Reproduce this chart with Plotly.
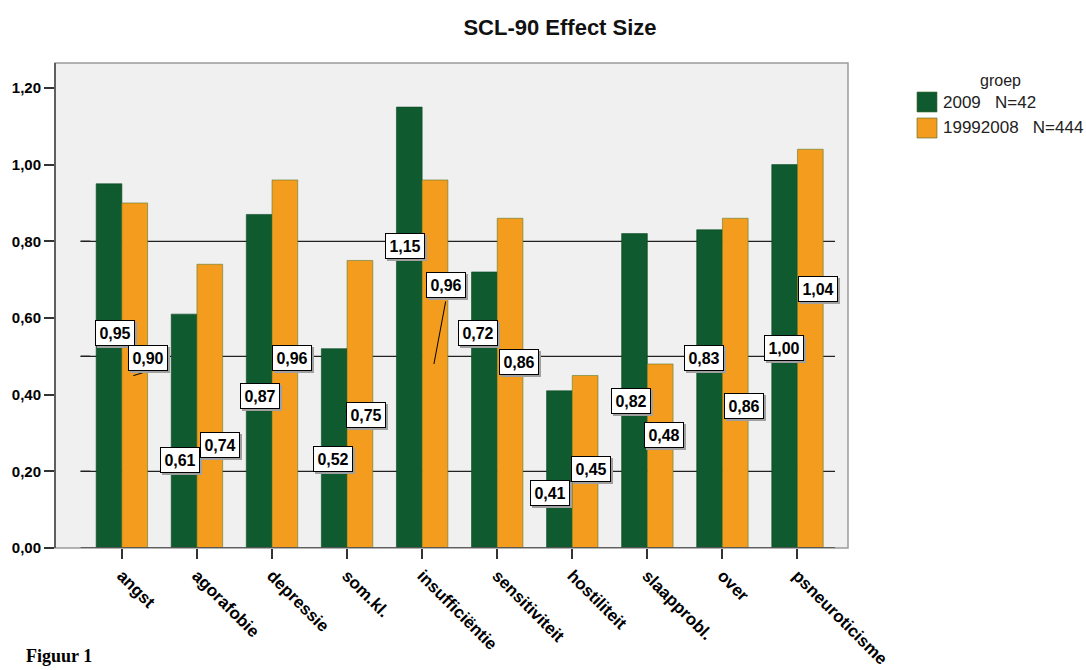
import plotly.graph_objects as go

categories = ["angst", "agorafobie", "depressie", "som.kl.", "insufficiëntie",
              "sensitiviteit", "hostiliteit", "slaapprobl.", "over", "psneuroticisme"]
series_names = ["2009\u00a0\u00a0 N=42", "19992008\u00a0\u00a0 N=444"]
values_2009 = [0.95, 0.61, 0.87, 0.52, 1.15, 0.72, 0.41, 0.82, 0.83, 1.00]
values_1999 = [0.90, 0.74, 0.96, 0.75, 0.96, 0.86, 0.45, 0.48, 0.86, 1.04]
ref_lines = [0.2, 0.5, 0.8]
y_ticks = [0, 0.2, 0.4, 0.6, 0.8, 1.0, 1.2]

# label box placement (data units) - style/position info, separate from data
label_x_2009 = [-0.075, 0.781, 1.853, 2.825, 3.785, 4.760, 5.720, 6.799, 7.765, 8.840]
label_y_2009 = [0.559, 0.228, 0.393, 0.229, 0.786, 0.559, 0.140, 0.380, 0.494, 0.520]
label_x_1999 = [0.357, 1.324, 2.283, 3.261, 4.337, 5.303, 6.269, 7.235, 8.307, 9.282]
label_y_1999 = [0.494, 0.267, 0.494, 0.344, 0.684, 0.483, 0.203, 0.291, 0.367, 0.672]
# leader lines: (head x, head y, tail x, tail y) in data units
leaders = [(0.152, 0.4495, 0.308, 0.459), (4.157, 0.480, 4.317, 0.647)]

GREEN = "#0f5a2e"
ORANGE = "#f39c1d"
COLORS = [GREEN, ORANGE]

W, H = 1086, 670
ML, MR, MT, MB = 55, 238, 63, 122
PW, PH = W - ML - MR, H - MT - MB

def px_x(p):
    return (p - ML) / PW

def px_y(p):
    return (H - MB - p) / PH

fig = go.Figure()
fig.add_trace(go.Bar(x=categories, y=values_2009, name=series_names[0], showlegend=False,
                     marker=dict(color=GREEN, line=dict(color="#0b4a25", width=0.6))))
fig.add_trace(go.Bar(x=categories, y=values_1999, name=series_names[1], showlegend=False,
                     marker=dict(color=ORANGE, line=dict(color="#5a7a30", width=0.6))))

shapes = []
shapes.append(dict(type="rect", xref="paper", yref="paper", x0=0, x1=1, y0=0, y1=1,
                   line=dict(color="#9a9a9a", width=1.5), layer="above"))
shapes.append(dict(type="line", xref="paper", yref="paper", x0=0, x1=0, y0=0, y1=1,
                   line=dict(color="#444444", width=1.5), layer="above"))
for r in ref_lines:
    shapes.append(dict(type="line", xref="x", yref="y", x0=-0.55, x1=9.5, y0=r, y1=r,
                       line=dict(color="#222222", width=1.3), layer="below"))
    shapes.append(dict(type="line", xref="x", yref="y", x0=-0.55, x1=-0.42, y0=r, y1=r,
                       line=dict(color="#222222", width=1.3), layer="above"))
shapes.append(dict(type="line", xref="x", yref="y", x0=-0.55, x1=9.5, y0=0, y1=0,
                   line=dict(color="#444444", width=1.5), layer="above"))

def fmt(v):
    return f"{v:.2f}".replace(".", ",")

annotations = []
FONT = "Liberation Sans, Arial"

for hx, hy, tx, ty in leaders:
    annotations.append(dict(x=hx, y=hy, xref="x", yref="y", ax=tx, ay=ty,
                            axref="x", ayref="y", text="", showarrow=True, arrowhead=0,
                            arrowwidth=1, arrowcolor="black"))

def add_label(xv, yv, txt):
    common = dict(x=xv, y=yv, xref="x", yref="y", text=txt, showarrow=False,
                  width=35, height=21, borderwidth=1, borderpad=1.5)
    annotations.append(dict(common, font=dict(family=FONT, size=16, color="#a0a0a0", weight="bold"),
                            bgcolor="#a0a0a0", bordercolor="#a0a0a0", xshift=1, yshift=-1))
    annotations.append(dict(common, font=dict(family=FONT, size=16, color="black", weight="bold"),
                            bgcolor="white", bordercolor="black", xshift=-1, yshift=1))

for i, v in enumerate(values_2009):
    add_label(label_x_2009[i], label_y_2009[i], fmt(v))
for i, v in enumerate(values_1999):
    add_label(label_x_1999[i], label_y_1999[i], fmt(v))

# custom legend
annotations.append(dict(x=px_x(1001), y=px_y(80), xref="paper", yref="paper", text="groep",
                        showarrow=False, xanchor="center", yanchor="middle",
                        font=dict(family=FONT, size=16, color="#222")))
for k, (nm, col) in enumerate(zip(series_names, COLORS)):
    top = 92 + 26 * k
    shapes.append(dict(type="rect", xref="paper", yref="paper",
                       x0=px_x(917), x1=px_x(937), y0=px_y(top + 20), y1=px_y(top),
                       fillcolor=col, line=dict(color="#4a6a30", width=0.6)))
    annotations.append(dict(x=px_x(941), y=px_y(top + 10), xref="paper", yref="paper",
                            text=nm, showarrow=False, xanchor="left", yanchor="middle",
                            font=dict(family=FONT, size=17, color="#222")))

annotations.append(dict(x=px_x(24), y=px_y(644), xref="paper", yref="paper", text="Figuur 1",
                        showarrow=False, xanchor="left", yanchor="top",
                        font=dict(family="Liberation Serif", size=18, color="black", weight="bold")))

fig.update_layout(
    width=W, height=H,
    margin=dict(l=ML, r=MR, t=MT, b=MB, autoexpand=False),
    paper_bgcolor="white", plot_bgcolor="#f0f0f0",
    separators=",.",
    barmode="group", bargap=0.315, bargroupgap=0,
    showlegend=False,
    title=dict(text="SCL-90 Effect Size", x=px_x(560), xref="paper", xanchor="center",
               y=1 - 27 / H, yanchor="middle",
               font=dict(family=FONT, size=22, color="#111111", weight="bold")),
    xaxis=dict(range=[-0.891, 9.673], showgrid=False, zeroline=False, showline=False,
               automargin=False,
               ticks="outside", ticklen=10, tickcolor="#333", tickwidth=1.5, tickangle=45,
               tickfont=dict(family=FONT, size=17, color="black", weight="bold")),
    yaxis=dict(range=[0, 1.265], tickvals=y_ticks, tickformat=".2f", showgrid=False,
               automargin=False,
               zeroline=False, showline=False, ticks="outside", ticklen=10, tickcolor="#333",
               tickwidth=1.5,
               tickfont=dict(family=FONT, size=15, color="black", weight="bold")),
    shapes=shapes, annotations=annotations,
)

fig.write_html("out.html", config={"displayModeBar": False},
               post_script="document.body.style.margin='0';")
